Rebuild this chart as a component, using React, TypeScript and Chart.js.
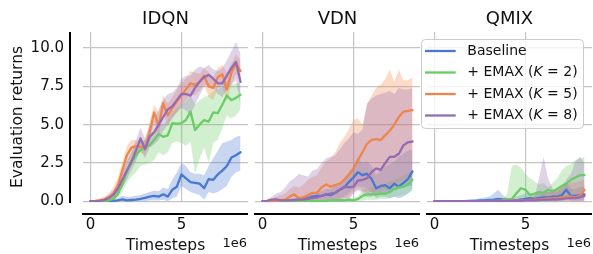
import React, { useEffect, useRef } from 'react';
import { Chart, registerables } from 'chart.js';
Chart.register(...registerables);

// ---------------- data (timesteps in millions) ----------------
const timestepsM = [0, 0.25, 0.5, 0.75, 1.0, 1.25, 1.5, 1.75, 2.0, 2.25, 2.5, 2.75, 3.0, 3.25, 3.5, 3.75, 4.0, 4.25, 4.5, 4.75, 5.0, 5.25, 5.5, 5.75, 6.0, 6.25, 6.5, 6.75, 7.0, 7.25, 7.5, 7.75, 8.0, 8.25];
const xTicksM = [0, 5];
const yTicks = [0, 2.5, 5, 7.5, 10];
const panelTitles = ['IDQN', 'VDN', 'QMIX'];
const seriesLabels = ['Baseline', '+ EMAX (K = 2)', '+ EMAX (K = 5)', '+ EMAX (K = 8)'];
const seriesColors = ['#4878d0', '#6acc64', '#ee854a', '#956cb4'];

// IDQN
const idqnBaseline = [0, 0, 0, 0, 0, 0.02, 0.05, 0.12, 0.05, 0.08, 0.1, 0.15, 0.22, 0.3, 0.35, 0.3, 0.45, 0.3, 0.75, 0.95, 1.75, 1.5, 1.25, 1.2, 1.15, 0.85, 1.45, 1.4, 1.75, 2.0, 2.3, 2.85, 3.0, 3.2];
const idqnBaselineHi = [0.02, 0.02, 0.02, 0.03, 0.05, 0.1, 0.2, 0.35, 0.3, 0.3, 0.35, 0.4, 0.5, 0.6, 0.7, 0.65, 0.9, 0.8, 1.4, 1.9, 2.5, 2.3, 1.9, 1.8, 1.8, 1.7, 2.3, 2.8, 3.3, 3.8, 3.9, 4.0, 4.2, 4.3];
const idqnBaselineLo = [0, 0, 0, 0, 0, 0, 0, 0, 0, 0, 0, 0, 0, 0.05, 0.05, 0.05, 0.1, 0, 0.2, 0.3, 1.0, 0.8, 0.6, 0.5, 0.4, 0.1, 0.6, 0.5, 0.6, 0.8, 1.0, 1.6, 1.9, 2.0];
const idqnK2 = [0, 0, 0, 0.02, 0.05, 0.15, 0.45, 1.1, 1.9, 2.5, 3.0, 3.35, 3.5, 3.65, 4.0, 4.4, 4.2, 4.3, 5.1, 5.05, 5.1, 5.3, 5.85, 4.65, 5.0, 5.3, 5.2, 5.8, 5.75, 6.3, 6.9, 6.6, 6.75, 6.95];
const idqnK2Hi = [0.02, 0.02, 0.03, 0.05, 0.1, 0.3, 0.8, 1.6, 2.6, 3.2, 3.6, 3.9, 4.0, 4.2, 4.6, 5.0, 5.0, 5.3, 5.8, 6.1, 6.3, 6.5, 6.9, 6.3, 6.6, 6.8, 6.9, 7.2, 7.3, 7.5, 7.8, 7.6, 7.7, 7.7];
const idqnK2Lo = [0, 0, 0, 0, 0.01, 0.05, 0.2, 0.6, 1.2, 1.6, 1.9, 2.3, 2.4, 2.5, 2.7, 3.2, 3.0, 3.2, 3.8, 3.9, 3.8, 3.6, 3.9, 1.8, 2.8, 3.5, 2.5, 3.8, 4.0, 4.8, 5.6, 5.4, 5.6, 6.0];
const idqnK5 = [0, 0.02, 0.05, 0.12, 0.25, 0.5, 1.0, 2.0, 3.0, 3.5, 3.6, 3.55, 3.5, 4.5, 5.8, 4.9, 6.4, 5.6, 6.1, 6.5, 6.9, 7.3, 7.7, 7.6, 7.8, 8.2, 7.5, 7.4, 8.1, 8.3, 7.3, 8.4, 9.0, 8.5];
const idqnK5Hi = [0.05, 0.1, 0.2, 0.3, 0.5, 0.9, 1.5, 2.6, 3.6, 4.0, 4.0, 3.9, 4.0, 5.2, 6.3, 5.8, 6.9, 6.4, 6.8, 7.3, 7.7, 8.0, 8.5, 8.4, 8.3, 8.7, 8.4, 8.1, 8.7, 8.9, 8.4, 9.0, 9.6, 9.2];
const idqnK5Lo = [0, 0, 0, 0.02, 0.1, 0.2, 0.6, 1.5, 2.5, 3.0, 3.2, 3.2, 3.0, 3.8, 5.2, 4.3, 5.8, 4.9, 5.5, 5.8, 6.2, 6.6, 7.0, 6.9, 7.2, 7.6, 6.8, 6.6, 7.4, 7.6, 6.5, 7.6, 8.3, 7.8];
const idqnK8 = [0, 0, 0.02, 0.08, 0.2, 0.4, 0.8, 1.4, 2.0, 2.6, 3.3, 4.1, 3.4, 4.2, 4.5, 5.0, 5.5, 6.0, 6.2, 6.6, 7.0, 7.0, 6.9, 7.4, 7.8, 8.1, 8.25, 8.0, 7.7, 7.7, 8.2, 8.7, 9.1, 7.8];
const idqnK8Hi = [0.02, 0.05, 0.1, 0.2, 0.4, 0.7, 1.2, 1.9, 2.6, 3.2, 4.0, 4.8, 4.1, 4.9, 5.3, 6.0, 6.6, 7.0, 7.1, 7.4, 8.0, 8.2, 8.2, 8.6, 8.8, 8.7, 8.9, 8.6, 8.5, 8.7, 9.2, 9.8, 10.4, 9.6];
const idqnK8Lo = [0, 0, 0, 0.02, 0.05, 0.15, 0.4, 0.9, 1.4, 2.0, 2.6, 3.4, 2.8, 3.5, 3.7, 4.0, 4.6, 5.0, 5.4, 5.8, 6.1, 5.9, 5.7, 6.3, 6.9, 7.5, 7.6, 7.4, 7.0, 6.8, 7.3, 7.6, 7.9, 6.2];

// VDN
const vdnBaseline = [0, 0, 0, 0.02, 0.02, 0.03, 0.05, 0.05, 0.1, 0.15, 0.2, 0.3, 0.35, 0.35, 0.45, 0.4, 0.55, 0.75, 0.9, 1.25, 1.55, 1.9, 1.7, 1.8, 1.45, 0.85, 1.0, 1.05, 0.85, 1.15, 0.95, 1.2, 1.45, 1.95];
const vdnBaselineHi = [0.02, 0.03, 0.05, 0.08, 0.1, 0.12, 0.15, 0.2, 0.25, 0.35, 0.4, 0.55, 0.6, 0.65, 0.8, 0.8, 1.0, 1.2, 1.5, 1.9, 2.3, 2.8, 2.5, 2.6, 2.3, 1.7, 2.0, 2.3, 2.4, 2.6, 2.9, 3.1, 3.3, 3.4];
const vdnBaselineLo = [0, 0, 0, 0, 0, 0, 0, 0, 0, 0, 0, 0.05, 0.1, 0.1, 0.1, 0.05, 0.1, 0.2, 0.3, 0.5, 0.8, 1.0, 0.9, 0.9, 0.6, 0.2, 0.3, 0.3, 0.2, 0.3, 0.2, 0.3, 0.5, 0.8];
const vdnK2 = [0, 0, 0, 0, 0, 0, 0, 0, 0, 0, 0, 0, 0, 0.02, 0.03, 0.05, 0.05, 0.08, 0.05, 0.1, 0.05, 0.15, 0.35, 0.45, 0.45, 0.45, 0.5, 0.5, 0.6, 0.8, 0.9, 0.95, 1.1, 1.4];
const vdnK2Hi = [0.01, 0.01, 0.01, 0.01, 0.01, 0.01, 0.01, 0.02, 0.02, 0.02, 0.03, 0.03, 0.04, 0.06, 0.08, 0.1, 0.12, 0.15, 0.15, 0.2, 0.2, 0.3, 0.8, 0.85, 0.9, 0.95, 1.0, 1.1, 1.3, 1.4, 1.5, 1.7, 1.8, 2.1];
const vdnK2Lo = [0, 0, 0, 0, 0, 0, 0, 0, 0, 0, 0, 0, 0, 0, 0, 0, 0, 0, 0, 0, 0, 0, 0.05, 0.1, 0.1, 0.1, 0.15, 0.15, 0.2, 0.3, 0.35, 0.4, 0.5, 0.7];
const vdnK5 = [0, 0, 0.02, 0.03, 0.05, 0.1, 0.3, 0.45, 0.2, 0.25, 0.4, 0.55, 0.55, 0.9, 1.1, 0.95, 1.05, 1.15, 1.4, 1.75, 2.1, 2.7, 3.2, 3.75, 4.0, 4.05, 4.0, 4.3, 4.6, 5.0, 5.5, 5.85, 5.9, 5.95];
const vdnK5Hi = [0.02, 0.05, 0.15, 0.3, 0.4, 0.5, 0.8, 1.0, 0.9, 1.1, 1.4, 1.6, 1.7, 2.2, 2.6, 2.8, 3.2, 3.8, 4.2, 4.7, 5.3, 5.4, 5.0, 6.3, 6.9, 7.4, 7.6, 8.0, 8.6, 7.8, 8.6, 7.9, 7.9, 8.1];
const vdnK5Lo = [0, 0, 0, 0, 0, 0, 0, 0, 0, 0, 0, 0, 0, 0, 0, 0.05, 0.1, 0.15, 0.2, 0.25, 0.6, 0.8, 0.7, 0.55, 0.6, 0.65, 0.7, 0.75, 0.8, 1.0, 1.2, 1.4, 1.5, 1.5];
const vdnK8 = [0, 0.02, 0.1, 0.12, 0.05, 0.05, 0.05, 0.08, 0.1, 0.1, 0.15, 0.2, 0.25, 0.35, 0.45, 0.5, 0.55, 0.75, 0.95, 0.9, 0.95, 1.35, 1.4, 1.5, 1.9, 2.15, 2.05, 2.5, 2.9, 2.9, 3.1, 3.65, 3.85, 3.9];
const vdnK8Hi = [0.02, 0.1, 0.3, 0.5, 0.6, 0.9, 1.3, 1.5, 1.8, 1.7, 1.6, 2.0, 2.1, 2.5, 2.8, 2.9, 3.0, 3.4, 3.8, 4.1, 4.5, 4.4, 4.7, 6.4, 6.7, 6.9, 7.0, 7.1, 7.2, 7.0, 7.4, 7.3, 7.3, 7.4];
const vdnK8Lo = [0, 0, 0, 0, 0, 0, 0, 0, 0, 0, 0, 0, 0, 0, 0, 0, 0, 0, 0, 0.05, 0.5, 0.7, 0.6, 0.3, 0.3, 0.4, 0.5, 0.55, 0.6, 0.7, 0.8, 0.9, 1.0, 1.0];

// QMIX
const qmixBaseline = [0, 0, 0, 0, 0, 0, 0.01, 0.01, 0.02, 0.03, 0.05, 0.06, 0.08, 0.1, 0.15, 0.12, 0.1, 0.05, 0.05, 0.1, 0.15, 0.2, 0.15, 0.2, 0.25, 0.25, 0.3, 0.3, 0.4, 0.75, 0.35, 0.35, 0.4, 0.45];
const qmixBaselineHi = [0.02, 0.02, 0.03, 0.04, 0.05, 0.06, 0.08, 0.1, 0.12, 0.15, 0.2, 0.25, 0.3, 0.5, 0.75, 0.4, 0.2, 0.2, 0.3, 0.4, 0.5, 0.5, 0.5, 0.55, 0.6, 0.6, 0.6, 0.7, 0.9, 1.2, 0.8, 0.8, 0.9, 1.0];
const qmixBaselineLo = [0, 0, 0, 0, 0, 0, 0, 0, 0, 0, 0, 0, 0, 0, 0, 0, 0, 0, 0, 0, 0, 0, 0, 0, 0, 0, 0, 0, 0.05, 0.2, 0.05, 0.05, 0.05, 0.1];
const qmixK2 = [0, 0, 0, 0, 0, 0, 0, 0, 0, 0, 0.01, 0.01, 0.02, 0.02, 0.02, 0.05, 0.1, 0.15, 0.5, 0.85, 0.75, 0.4, 0.5, 0.6, 0.55, 0.75, 0.65, 0.8, 1.0, 1.15, 1.4, 1.55, 1.7, 1.7];
const qmixK2Hi = [0.01, 0.01, 0.01, 0.01, 0.01, 0.01, 0.01, 0.01, 0.02, 0.02, 0.03, 0.03, 0.04, 0.04, 0.05, 0.1, 0.5, 2.3, 2.4, 2.2, 1.8, 1.5, 1.3, 1.1, 1.2, 0.9, 1.2, 1.5, 2.0, 2.3, 2.4, 2.7, 2.8, 2.9];
const qmixK2Lo = [0, 0, 0, 0, 0, 0, 0, 0, 0, 0, 0, 0, 0, 0, 0, 0, 0, 0, 0, 0, 0, 0, 0, 0, 0, 0, 0, 0, 0, 0.1, 0.3, 0.4, 0.5, 0.6];
const qmixK5 = [0, 0, 0, 0, 0, 0, 0, 0, 0, 0, 0, 0, 0.01, 0.01, 0.02, 0.02, 0.03, 0.03, 0.04, 0.05, 0.05, 0.08, 0.1, 0.12, 0.15, 0.18, 0.2, 0.22, 0.25, 0.28, 0.3, 0.25, 0.35, 0.75];
const qmixK5Hi = [0.01, 0.01, 0.01, 0.01, 0.01, 0.01, 0.02, 0.02, 0.03, 0.03, 0.04, 0.04, 0.05, 0.05, 0.06, 0.08, 0.1, 0.12, 0.15, 0.18, 0.2, 0.28, 0.35, 0.42, 0.5, 0.6, 0.7, 0.8, 0.9, 1.05, 1.2, 1.2, 1.3, 1.4];
const qmixK5Lo = [0, 0, 0, 0, 0, 0, 0, 0, 0, 0, 0, 0, 0, 0, 0, 0, 0, 0, 0, 0, 0, 0, 0, 0, 0, 0, 0, 0, 0, 0, 0, 0, 0, 0];
const qmixK8 = [0, 0, 0, 0, 0, 0, 0, 0, 0, 0, 0.01, 0.01, 0.01, 0.01, 0.01, 0.01, 0.02, 0.02, 0.03, 0.03, 0.05, 0.05, 0.06, 0.08, 0.1, 0.1, 0.12, 0.13, 0.15, 0.18, 0.2, 0.2, 0.25, 0.35];
const qmixK8Hi = [0.01, 0.01, 0.01, 0.01, 0.01, 0.02, 0.02, 0.03, 0.03, 0.04, 0.05, 0.05, 0.06, 0.06, 0.07, 0.08, 0.1, 0.12, 0.15, 0.18, 0.2, 0.25, 0.3, 1.5, 2.9, 1.5, 0.8, 0.6, 1.0, 1.4, 1.8, 2.6, 2.9, 2.5];
const qmixK8Lo = [0, 0, 0, 0, 0, 0, 0, 0, 0, 0, 0, 0, 0, 0, 0, 0, 0, 0, 0, 0, 0, 0, 0, 0, 0, 0, 0, 0, 0, 0, 0, 0, 0, 0];

const panels = [
  { mean: [idqnBaseline, idqnK2, idqnK5, idqnK8], hi: [idqnBaselineHi, idqnK2Hi, idqnK5Hi, idqnK8Hi], lo: [idqnBaselineLo, idqnK2Lo, idqnK5Lo, idqnK8Lo] },
  { mean: [vdnBaseline, vdnK2, vdnK5, vdnK8], hi: [vdnBaselineHi, vdnK2Hi, vdnK5Hi, vdnK8Hi], lo: [vdnBaselineLo, vdnK2Lo, vdnK5Lo, vdnK8Lo] },
  { mean: [qmixBaseline, qmixK2, qmixK5, qmixK8], hi: [qmixBaselineHi, qmixK2Hi, qmixK5Hi, qmixK8Hi], lo: [qmixBaselineLo, qmixK2Lo, qmixK5Lo, qmixK8Lo] },
];

// ---------------- styling ----------------
const FONT = '"DejaVu Sans", sans-serif';
const TEXT = '#111111';
const GRID = '#c4c4c4';
const X_MIN = -0.4125e6;
const X_MAX = 8.6625e6;
const Y_MIN = -0.05;
const Y_MAX = 11.05;
const CANVAS_W = 250;
const CANVAS_H = 254;
const PANEL_STEP = 172;

function rgba(hex: string, a: number) {
  const n = parseInt(hex.slice(1), 16);
  return `rgba(${(n >> 16) & 255},${(n >> 8) & 255},${n & 255},${a})`;
}

function pts(arr: number[]) {
  return timestepsM.map((t, i) => ({ x: t * 1e6, y: arr[i] }));
}

function drawLegend(chart: any) {
  const { ctx, chartArea: a } = chart;
  const bx = a.left - 6, by = a.top + 7, bw = 162, bh = 89;
  ctx.save();
  ctx.beginPath();
  (ctx as any).roundRect(bx + 0.5, by + 0.5, bw, bh, 4);
  ctx.fillStyle = 'rgba(255,255,255,0.8)';
  ctx.fill();
  ctx.strokeStyle = '#cccccc';
  ctx.lineWidth = 1;
  ctx.stroke();
  seriesLabels.forEach((label, i) => {
    const y = by + 12 + i * 21.5;
    ctx.beginPath();
    ctx.strokeStyle = seriesColors[i];
    ctx.lineWidth = 2.3;
    ctx.moveTo(bx + 4, y);
    ctx.lineTo(bx + 34.7, y);
    ctx.stroke();
    let x = bx + 46.3;
    ctx.fillStyle = TEXT;
    ctx.textBaseline = 'middle';
    ctx.textAlign = 'left';
    label.split(/(K)/).forEach((part) => {
      if (!part) return;
      ctx.font = (part === 'K' ? 'italic ' : '') + '14px ' + FONT;
      ctx.fillText(part, x, y);
      x += ctx.measureText(part).width;
    });
  });
  ctx.restore();
}

function makeChart(canvas: HTMLCanvasElement, p: number) {
  const panel = panels[p];
  const showY = p === 0;
  const datasets: any[] = [];
  seriesColors.forEach((c, i) => {
    datasets.push({ label: seriesLabels[i] + ' hi', data: pts(panel.hi[i]), borderWidth: 0, borderColor: 'transparent', pointRadius: 0, fill: '+1', backgroundColor: rgba(c, 0.3), order: 20 - i });
    datasets.push({ label: seriesLabels[i] + ' lo', data: pts(panel.lo[i]), borderWidth: 0, borderColor: 'transparent', pointRadius: 0, fill: false, order: 20 - i });
  });
  seriesColors.forEach((c, i) => {
    datasets.push({ label: seriesLabels[i], data: pts(panel.mean[i]), borderWidth: 2.3, borderColor: c, pointRadius: 0, fill: false, order: 10 - i, borderJoinStyle: 'round', borderCapStyle: 'round' });
  });

  const deco = {
    id: 'deco' + p,
    afterDraw(chart: any) {
      const { ctx, chartArea: a } = chart;
      ctx.save();
      ctx.strokeStyle = '#000';
      ctx.lineWidth = 2;
      ctx.beginPath();
      ctx.moveTo(a.left - 1, a.bottom + 12);
      ctx.lineTo(a.right, a.bottom + 12);
      if (showY) {
        ctx.moveTo(a.left - 13, a.top);
        ctx.lineTo(a.left - 13, a.bottom + 1);
      }
      ctx.stroke();
      ctx.fillStyle = TEXT;
      ctx.font = '13px ' + FONT;
      ctx.textAlign = 'right';
      ctx.textBaseline = 'alphabetic';
      ctx.fillText('1e6', a.right - 1, a.bottom + 45);
      ctx.restore();
      if (p === 2) drawLegend(chart);
    },
  };

  return new Chart(canvas, {
    type: 'line',
    data: { datasets },
    plugins: [deco],
    options: {
      animation: false,
      responsive: false,
      devicePixelRatio: 1,
      events: [],
      layout: { padding: { left: 0, right: 2, top: 0, bottom: 0 } },
      plugins: {
        legend: { display: false },
        tooltip: { enabled: false },
        filler: { drawTime: 'beforeDatasetsDraw' },
        title: {
          display: true,
          text: panelTitles[p],
          fullSize: false,
          color: TEXT,
          font: { family: FONT, size: 18, weight: 'normal', lineHeight: 1.2 },
          padding: { top: 8.1, bottom: 2.3 },
        },
      },
      scales: {
        x: {
          type: 'linear',
          min: X_MIN,
          max: X_MAX,
          afterBuildTicks: (s: any) => { s.ticks = xTicksM.map((v) => ({ value: v * 1e6 })); },
          afterFit: (s: any) => { s.height = 52; },
          ticks: { callback: (v: any) => String(Number(v) / 1e6), color: TEXT, font: { family: FONT, size: 15 }, padding: 14.5, maxRotation: 0, autoSkip: false },
          grid: { color: GRID, lineWidth: 1.2, drawTicks: false },
          border: { display: false },
          title: { display: true, text: 'Timesteps', color: TEXT, font: { family: FONT, size: 15.5, lineHeight: 1 }, padding: { top: 0, bottom: 0.75 } },
        },
        y: {
          type: 'linear',
          min: Y_MIN,
          max: Y_MAX,
          afterBuildTicks: (s: any) => { s.ticks = yTicks.map((v) => ({ value: v })); },
          afterFit: (s: any) => { s.width = 83; },
          ticks: { display: showY, callback: (v: any) => Number(v).toFixed(1), color: TEXT, font: { family: FONT, size: 15 }, padding: 19 },
          grid: { color: GRID, lineWidth: 1.2, drawTicks: false },
          border: { display: false },
          title: { display: showY, text: 'Evaluation returns', color: TEXT, font: { family: FONT, size: 15.5, lineHeight: 1.2 }, padding: { top: 8.3, bottom: 0 } },
        },
      },
    } as any,
  });
}

export default function App() {
  const refs = [useRef<HTMLCanvasElement>(null), useRef<HTMLCanvasElement>(null), useRef<HTMLCanvasElement>(null)];
  useEffect(() => {
    const charts = refs.map((r, i) => makeChart(r.current as HTMLCanvasElement, i));
    return () => charts.forEach((c) => c.destroy());
  }, []);
  return (
    <div style={{ position: 'absolute', left: 0, top: 0, width: 593, height: 254, overflow: 'hidden', background: '#fff' }}>
      {refs.map((r, i) => (
        <canvas key={i} ref={r} width={CANVAS_W} height={CANVAS_H} style={{ position: 'absolute', left: i * PANEL_STEP, top: 0, width: CANVAS_W, height: CANVAS_H }} />
      ))}
    </div>
  );
}
